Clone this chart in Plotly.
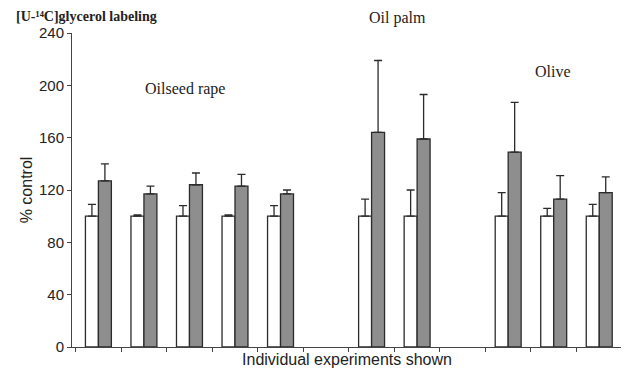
import plotly.graph_objects as go

experiments = ["OR1", "OR2", "OR3", "OR4", "OR5", " ", "OP1", "OP2", "  ", "OL1", "OL2", "OL3"]
control_vals = [100, 100, 100, 100, 100, None, 100, 100, None, 100, 100, 100]
control_err = [9, 1, 8, 1, 8, None, 13, 20, None, 18, 6, 9]
treated_vals = [127, 117, 124, 123, 117, None, 164, 159, None, 149, 113, 118]
treated_err = [13, 6, 9, 9, 3, None, 55, 34, None, 38, 18, 12]

group_labels = ["Oilseed rape", "Oil palm", "Olive"]
y_ticks = [0, 40, 80, 120, 160, 200, 240]

edge = "#2b2b2b"
fig = go.Figure()
fig.add_trace(go.Bar(
    x=experiments, y=control_vals, name="control",
    marker=dict(color="white", line=dict(color=edge, width=1.3)),
    error_y=dict(type="data", array=control_err, arrayminus=[0]*len(control_err),
                 symmetric=False, color=edge, thickness=1.3, width=4),
))
fig.add_trace(go.Bar(
    x=experiments, y=treated_vals, name="treated",
    marker=dict(color="#8e8e8e", line=dict(color=edge, width=1.3)),
    error_y=dict(type="data", array=treated_err, arrayminus=[0]*len(treated_err),
                 symmetric=False, color=edge, thickness=1.3, width=4),
))

serif = "Liberation Serif, Times New Roman, serif"
ann_font = dict(family=serif, size=16, color="#222")
fig.update_layout(
    width=621, height=366,
    margin=dict(l=64, r=7, t=25, b=27),
    paper_bgcolor="white", plot_bgcolor="white",
    barmode="group", bargap=0.43, bargroupgap=0,
    showlegend=False,
    font=dict(family="Liberation Sans, Arial, sans-serif", color="#222"),
    xaxis=dict(type="category", categoryorder="array", categoryarray=experiments,
               range=[-0.58, 11.5], tickson="boundaries", ticks="outside", ticklen=4,
               tickcolor="#444", showticklabels=False, showline=True, linecolor="#444",
               linewidth=1, showgrid=False, zeroline=False,
               title=dict(text="Individual experiments shown", font=dict(size=16), standoff=6)),
    yaxis=dict(range=[0, 240], tickvals=y_ticks, ticks="outside", ticklen=4,
               tickcolor="#444", showline=True, linecolor="#444", linewidth=1,
               showgrid=False, zeroline=False, tickfont=dict(size=15),
               title=dict(text="% control", font=dict(size=16), standoff=2)),
    annotations=[
        dict(text="<b>[U-¹⁴C]glycerol labeling</b>", xref="paper", yref="paper",
             x=-0.104, y=1.0796, xanchor="left", yanchor="top", showarrow=False,
             borderpad=0, font=dict(family=serif, size=14, color="#222")),
        dict(text=group_labels[0], xref="paper", yref="paper", x=0.205, y=0.822,
             xanchor="center", yanchor="middle", showarrow=False, font=ann_font),
        dict(text=group_labels[1], xref="paper", yref="paper", x=0.591, y=1.047,
             xanchor="center", yanchor="middle", showarrow=False, font=ann_font),
        dict(text=group_labels[2], xref="paper", yref="paper", x=0.875, y=0.876,
             xanchor="center", yanchor="middle", showarrow=False, font=ann_font),
    ],
)
fig.write_html("out.html")
